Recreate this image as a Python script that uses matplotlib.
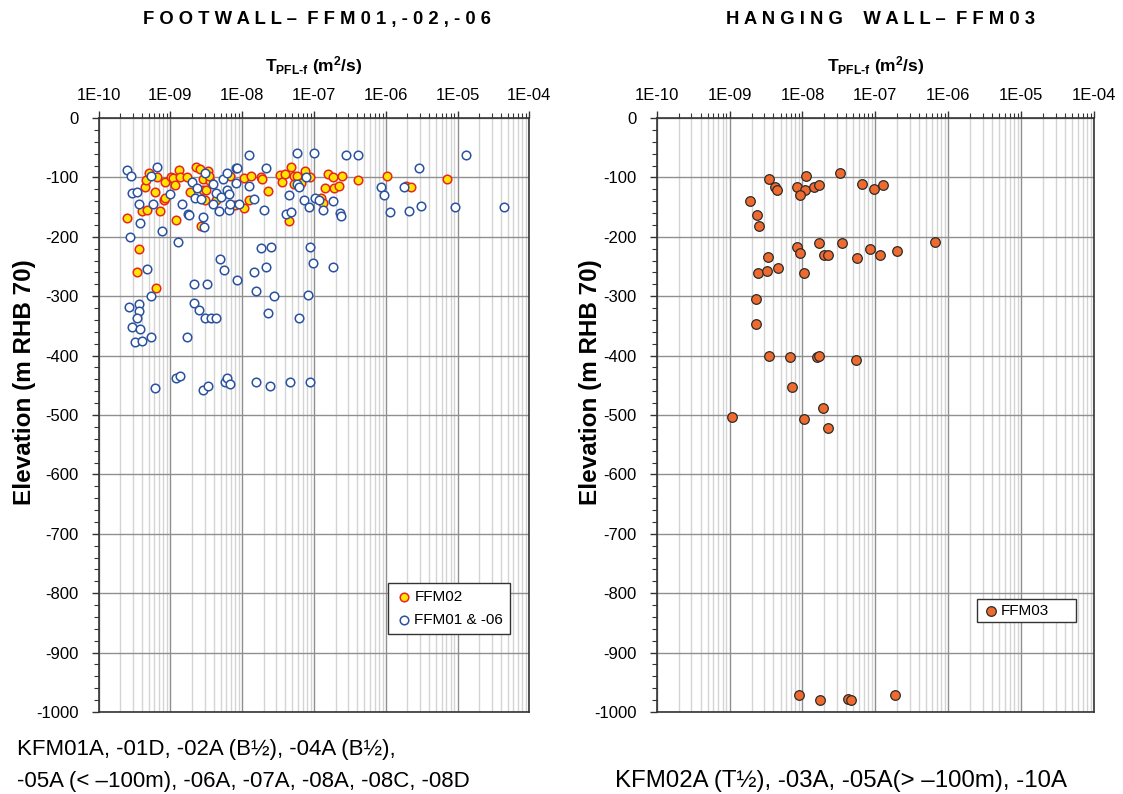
import numpy as np
import matplotlib
matplotlib.use("Agg")
import matplotlib.pyplot as plt
from matplotlib.ticker import FixedLocator, FuncFormatter, MultipleLocator, LogLocator, NullFormatter

plt.rcParams['font.family'] = ['Liberation Sans', 'DejaVu Sans']
plt.rcParams['axes.unicode_minus'] = False
plt.rcParams['mathtext.fontset'] = 'custom'
plt.rcParams['mathtext.rm'] = 'Liberation Sans:bold'
plt.rcParams['mathtext.bf'] = 'Liberation Sans:bold'
plt.rcParams['mathtext.it'] = 'Liberation Sans:bold'

# ---------------- data (log10 T [m2/s], elevation [m RHB 70]) ----------------
ffm02_logT = [-9.61, -9.44, -9.39, -9.32, -9.35, -9.34, -9.30, -9.21, -9.18, -9.15,
              -9.09, -9.08, -9.07, -8.99, -8.96, -8.93, -8.92, -8.88, -8.86, -8.77,
              -8.73, -8.64, -8.59, -8.47, -8.57, -8.55, -8.55, -8.52, -8.45, -8.36,
              -8.17, -8.10, -7.98, -7.97, -7.90, -7.88, -7.74, -7.73, -7.64, -7.48,
              -7.45, -7.41, -7.35, -7.32, -7.28, -7.24, -7.28, -7.18, -7.12, -7.05,
              -6.90, -6.87, -6.85, -6.80, -6.74, -6.72, -6.65, -6.61, -6.39, -5.99,
              -5.72, -5.65, -5.15, -9.47, -9.20, -8.50, -8.46]
ffm02_elev = [-169, -220, -157, -155, -117, -104, -92, -124, -100, -157,
              -138, -135, -108, -100, -101, -113, -172, -88, -100, -100,
              -124, -83, -86, -90, -181, -102, -121, -138, -106, -138,
              -98, -146, -152, -101, -138, -98, -99, -102, -123, -96,
              -108, -95, -173, -82, -97, -97, -111, -110, -90, -100,
              -134, -143, -118, -94, -100, -118, -114, -97, -104, -97,
              -114, -117, -103, -259, -286, -121, -97]

ffm01_logT = [-9.61, -9.55, -9.53, -9.47, -9.44, -9.42, -9.27, -9.24, -9.18, -9.12,
              -9.00, -8.89, -8.84, -8.76, -8.74, -8.70, -8.66, -8.63, -8.57, -8.54,
              -8.53, -8.52, -8.41, -8.41, -8.36, -8.33, -8.29, -8.27, -8.21, -8.21,
              -8.19, -8.19, -8.17, -8.09, -8.07, -8.09, -8.05, -7.90, -7.90, -7.83,
              -7.70, -7.67, -7.39, -7.32, -7.35, -7.23, -7.23, -7.21, -7.14, -7.11,
              -7.07, -7.00, -6.99, -6.93, -6.88, -6.74, -6.64, -6.62, -6.55, -6.39,
              -6.06, -6.03, -5.94, -5.74, -5.67, -5.54, -5.51, -5.04, -4.88, -4.35,
              -9.56, -7.74, -7.60, -7.05,
              -9.32, -8.31, -8.26, -8.07, -8.67, -8.49, -9.27, -9.58, -9.44, -9.44,
              -9.46, -9.53, -9.42, -9.50, -9.39, -9.27, -8.77, -8.67, -8.60, -8.52,
              -8.43, -8.36, -7.83, -7.81, -7.67, -7.56, -7.64, -7.21, -7.09, -7.02,
              -6.74, -9.21, -8.92, -8.86, -8.55, -8.48, -8.24, -8.21, -8.17, -7.81,
              -7.61, -7.33, -7.06]
ffm01_elev = [-88, -97, -126, -124, -144, -176, -98, -144, -82, -190,
              -128, -208, -144, -162, -164, -107, -134, -118, -136, -166,
              -184, -92, -111, -144, -127, -157, -133, -102, -92, -121,
              -128, -155, -144, -84, -84, -109, -144, -63, -115, -136,
              -155, -85, -162, -159, -130, -59, -111, -117, -138, -99,
              -150, -59, -134, -138, -155, -140, -160, -165, -63, -63,
              -117, -130, -159, -117, -157, -84, -148, -150, -63, -150,
              -200, -219, -218, -218,
              -255, -238, -256, -273, -279, -279, -300, -319, -313, -325,
              -336, -352, -356, -377, -376, -369, -369, -311, -323, -337,
              -337, -337, -259, -292, -250, -300, -329, -337, -298, -244,
              -250, -454, -437, -435, -458, -452, -444, -437, -448, -444,
              -452, -444, -444]

ffm03_logT = [-8.46, -8.37, -8.35, -8.72, -8.62, -8.59, -8.07, -7.97, -8.04, -7.95,
              -7.84, -7.78, -7.49, -7.19, -7.02, -6.90, -8.07, -8.03, -7.78, -7.46,
              -7.71, -7.65, -7.25, -7.07, -6.94, -6.70, -6.18, -8.47, -8.61, -8.49,
              -8.34, -7.98, -8.64, -8.64, -8.46, -8.17, -7.80, -7.78, -7.27, -8.15,
              -7.72, -8.96, -7.98, -7.65, -8.05, -7.76, -7.38, -7.33, -6.73]
ffm03_elev = [-103, -117, -121, -140, -163, -182, -117, -121, -129, -97,
              -116, -113, -92, -111, -120, -113, -217, -228, -211, -211,
              -231, -231, -236, -220, -230, -224, -209, -234, -261, -257,
              -253, -261, -305, -346, -401, -403, -402, -400, -407, -453,
              -489, -503, -506, -522, -971, -980, -978, -980, -972]

titles = ["F O O T W A L L \u2013  F F M 0 1 , - 0 2 , - 0 6",
          "H A N G I N G    W A L L \u2013  F F M 0 3"]
x_decades = [-10, -9, -8, -7, -6, -5, -4]
y_ticks = list(range(-1000, 1, 100))
x_label = r'$\mathbf{T}_{\mathbf{PFL\text{-}f}}$ (m$^\mathbf{2}$/s)'
y_label = 'Elevation (m RHB 70)'
notes_left = ["KFM01A, -01D, -02A (B\u00bd), -04A (B\u00bd),",
              "-05A (< \u2013100m), -06A, -07A, -08A, -08C, -08D"]
note_right = "KFM02A (T\u00bd), -03A, -05A(> \u2013100m), -10A"

# ---------------- figure ----------------
W, H = 1123, 794
fig = plt.figure(figsize=(W / 100, H / 100), dpi=100)
ax1 = fig.add_axes([98.6 / W, 1 - 712 / H, 430.8 / W, 594 / H])
ax2 = fig.add_axes([656.7 / W, 1 - 712 / H, 437.3 / W, 594 / H])

dark = '#333333'

def style(ax):
    ax.set_xscale('log')
    ax.set_xlim(10.0 ** x_decades[0], 10.0 ** x_decades[-1])
    ax.set_ylim(-1000, 0)
    ax.xaxis.tick_top()
    ax.xaxis.set_major_locator(FixedLocator([10.0 ** d for d in x_decades]))
    ax.xaxis.set_minor_locator(LogLocator(base=10, subs=np.arange(2, 10), numticks=20))
    ax.xaxis.set_major_formatter(FuncFormatter(lambda v, p: "1E%+03d" % int(round(np.log10(v)))))
    ax.xaxis.set_minor_formatter(NullFormatter())
    ax.set_yticks(y_ticks)
    ax.yaxis.set_minor_locator(MultipleLocator(20))
    ax.tick_params(axis='both', which='major', direction='out', length=5, width=1,
                   color=dark, labelsize=12, labelcolor='black')
    ax.tick_params(axis='x', which='major', pad=5.5)
    ax.tick_params(axis='y', which='major', pad=9.5)
    ax.tick_params(axis='both', which='minor', direction='out', length=3.5, width=0.8, color=dark)
    ax.tick_params(axis='x', which='both', top=True, bottom=False)
    ax.tick_params(axis='y', which='both', left=True, right=False)
    ax.set_axisbelow(True)
    ax.grid(which='minor', axis='x', color='#d4d4d4', lw=1.0)
    ax.grid(which='major', axis='both', color='#8f8f8f', lw=1.0)
    for s in ax.spines.values():
        s.set_color(dark)
        s.set_linewidth(1.2)
    ax.set_ylabel(y_label, fontsize=17.5, fontweight='bold')

style(ax1)
style(ax2)
ax1.yaxis.set_label_coords(-0.145, 0.556)
ax2.yaxis.set_label_coords(-0.124, 0.556)

ax1.scatter(10.0 ** np.array(ffm02_logT), ffm02_elev, s=38, facecolor='#FFE600',
            edgecolor='#E8251F', linewidth=1.1, zorder=3, label='FFM02')
ax1.scatter(10.0 ** np.array(ffm01_logT), ffm01_elev, s=38, facecolor='white',
            edgecolor='#2A52A0', linewidth=1.1, zorder=4, label='FFM01 & -06')
ax2.scatter(10.0 ** np.array(ffm03_logT), ffm03_elev, s=48, facecolor='#EE6A2E',
            edgecolor='#2B2B2B', linewidth=0.9, zorder=3, label='FFM03')

leg1 = ax1.legend(loc='lower right', bbox_to_anchor=(0.955, 0.131), fontsize=11, frameon=True,
                  fancybox=False, framealpha=1, edgecolor=dark, handletextpad=0.1,
                  borderpad=0.45, labelspacing=0.6, handlelength=1.2, borderaxespad=0)
leg1.get_frame().set_linewidth(1.0)
leg2 = ax2.legend(loc='lower left', bbox_to_anchor=(0.732, 0.151, 0.2264, 0.043), mode='expand',
                  fontsize=11, frameon=True, fancybox=False, framealpha=1, edgecolor=dark,
                  handletextpad=0.1, borderpad=0.3, handlelength=1.2, borderaxespad=0)
leg2.get_frame().set_linewidth(1.0)

fig.text(316.7 / W, 1 - 24 / H, titles[0], ha='center', va='baseline',
         fontsize=13.3, fontweight='bold')
fig.text(881 / W, 1 - 24 / H, titles[1], ha='center', va='baseline',
         fontsize=13.3, fontweight='bold')

fig.text(313.5 / W, 1 - 71 / H, x_label, ha='center', va='baseline', fontsize=12.5,
         fontweight='bold')
fig.text(876 / W, 1 - 71 / H, x_label, ha='center', va='baseline', fontsize=12.5,
         fontweight='bold')

fig.text(16.7 / W, 1 - 755 / H, notes_left[0], ha='left', va='baseline', fontsize=16)
fig.text(16.7 / W, 1 - 787 / H, notes_left[1], ha='left', va='baseline', fontsize=16)
fig.text(615 / W, 1 - 787 / H, note_right, ha='left', va='baseline', fontsize=17.3)

fig.savefig('out.png', dpi=100)
